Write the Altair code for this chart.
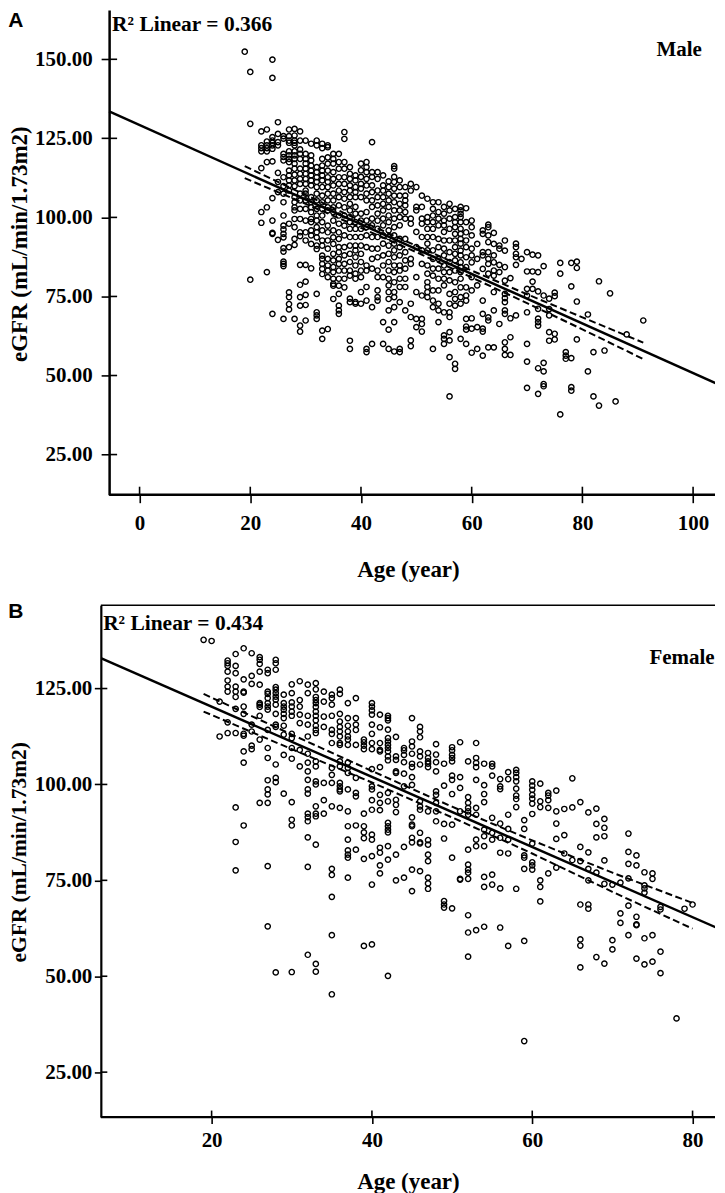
import altair as alt
import pandas as pd

male = {
19:[152.4],
20:[146.0,129.6,80.3],
22:[127.2,122.8,121.9,120.9,115.6,101.7,98.3],
23:[127.8,124,122.8,121.9,120.9,117.5,103.2,82.7],
24:[149.9,144.1,125.4,124.3,123.6,122.8,121.7,117.7,106.1,99,95.1,94.8,69.5],
25:[130.1,126.4,123.8,122.8,114.1,111.2,108,92.9],
26:[125.7,124.9,120.1,119.1,118,112.7,109.9,107.5,104.8,100.6,97.4,96.2,94.8,93.7,90.3,89.2,86,85.3,84.6,67.9],
27:[127.8,125.7,124.3,123.6,120.9,119.6,118.5,117.5,114.8,113.3,111.7,110.1,108.5,98,90.6,76.3,74.8,72.6,70.9],
28:[128,125.9,124.3,123.6,122.8,120.9,119.6,118.5,117,115.4,113.5,111.7,109.9,106.4,104.8,103.2,102.2,99.5,96.9,93.2,91.3,67.9],
29:[127.2,124.3,121.5,120.1,118.5,115.4,113.8,112.2,110.6,107.5,105.4,102.7,99.5,95.3,94.1,85,78.7,74.8,72.1,65.8,63.9],
30:[124.3,120.1,118.5,117,115.4,113.8,112.2,110.6,108.5,107.5,105.4,102.7,99,95.3,92.7,85,79.7,75.5,72.3,67.4],
31:[123.3,119.6,118,116.4,114.8,113.3,111.7,110.1,106.4,104.8,103.2,101.7,99.5,98.5,95.9,94.3,91.6,83.9],
32:[124.3,122.8,115.9,114.3,112.7,111.2,109.6,107.5,105.4,102.7,100.6,99,96.9,95.3,93.7,91.1,90,75.8,70,69,67.9],
33:[123.3,121.9,118.5,116.4,114.8,113.3,111.7,109.6,106.9,104.8,102.7,100.6,98.5,95.9,92.7,91.1,87.9,86.9,85.3,83.7,82.1,64.2,61.6],
34:[122.8,122.2,119,117,114.8,112.7,111.2,109.6,107.5,105.4,103.2,102.2,97.4,95.3,92.7,90.1,86.9,84.8,83.2,81.1,64.7],
35:[120.1,118.5,117,114.3,112.2,110.1,107.5,105.4,103.2,101.7,99,95.9,93.7,91.6,88.5,86.4,84.3,82.7,80.6,79,78.4,74.2],
36:[120.1,117.5,115.4,112.7,110.6,108.5,106.4,103.8,100.6,98,95.3,93.2,90.6,89,86.9,85.3,83.2,80.6,78.4,75.8,72.1,70.6,69.5],
37:[127,124.8,117.5,115.4,112.7,110.6,108,105.9,103.2,100.6,97.4,94.3,90.6,88,85.3,83.2,80.6,77.9],
38:[115.9,113.8,112.2,110.1,108.5,106.4,104.3,102.2,100.1,98.5,96.4,93.8,91.1,88.5,85.9,83.2,81.6,74.3,73.2,61,58.4],
39:[113.3,111.7,109.6,108,106.4,103.3,101.2,98.5,96.4,93.8,91.1,89.6,87.4,84.8,82.2,80.6,73.2,72.7],
40:[117,114.9,112.8,110.6,109.1,106.4,101.2,99,96.4,93.8,91.1,88.5,85.9,83.2,81.1,76.4,72.7],
41:[117.5,115.9,114.3,112.2,110.1,107.5,105.4,101.7,99,96.9,94.3,90.6,84.8,83.2,78,73.7,58.4,57.4],
42:[123.8,114.3,112.8,110.1,108,105.4,103.3,99.6,97.5,93.8,90.1,86.9,83.8,71.6,60],
43:[114.3,112.2,108.5,106.4,103.8,101.2,99,96.4,93.8,90.1,87.4,83.2,81.1,76.9,74.8,73.7],
44:[113.3,110.1,108.5,106.4,104.3,102.2,99.6,97.5,94.3,91.7,88,84.8,81.1,66.9,60],
45:[111.4,109.6,107.5,105.4,103.3,100.6,98.5,95.9,93.8,91.1,88.5,85.9,83.2,80.6,78.5,76.4,74.2,70.6,64.5,58.4],
46:[116.2,115.4,112.8,111.2,109.1,106.9,104.8,102.2,99.6,96.9,94.3,91.7,89.6,87.4,84.8,82.7,79.5,76.4,74.8,71.6,66.9,57.6],
47:[111.7,109.6,106.9,104.3,102.2,100.1,97.5,93.2,90.6,88,84.8,83.2,80.6,78,73.2,58.4,57.4],
48:[109.6,106.9,105.4,103.8,101.7,99.6,93.2,89,86.4,83.8,80.6,78,70.6],
49:[110.6,108.5,99.6,98,86.9,85.3,72.7,68.5,61.1,59.3],
50:[109.6,103.3,102.2,95.4,90.6,81.1,76.4,67.9,65.3],
51:[106.9,103.3,99.6,98,93.8,89.6,85.3,75.3,67.9,66.3,63.9],
52:[105.9,100.1,98.5,96.4,93.8,91.7,89.6,84.8,82.2,79.5,78,76.4,74.8],
53:[104.8,102.7,100.6,98.5,96.4,93.8,89.6,86.9,83.8,81.6,76.9,73.7,71.6,58.4],
54:[104.8,101.7,99.6,97.5,93.2,90.6,86.9,83.8,80.6,76.9,72.7,70.6,66.9],
55:[103.3,101.2,99,97.5,95.4,92.7,90.1,88,84.8,82.7,80.6,78.5,70,62.7,61.6,60],
56:[104.3,102.2,99.6,96.4,92.7,89,85.9,82.7,80.1,75.8,72.7,70,68.5,63.7,61.1,55.8,43.4],
57:[102.7,100.1,98.5,96.9,94.8,92.7,90.6,88.5,86.4,83.2,79.5,76.4,74.2,72.1,53.7,52.1],
58:[103.3,102.2,101.1,100.1,98.5,96.4,94.8,93.2,91.7,89.5,88,85.8,84.3,82.7,80.6,77.9,74.8,72.7,61.6],
59:[102.9,98.5,95.3,92.7,90.6,87.4,84.3,77.9,75.3,73.7,67.9,65.5,64.5,60],
60:[99,96.9,94.3,90.1,88,85.8,81.1,76.9,68.1,64.8,57.2],
61:[91.6,86.9,78.5,65.3,58.4],
62:[95.9,94.8,89,88,83.7,73.7,69.5,64.8,63.9,56.3],
63:[97.7,96.9,94.3,92.2,89,86.9,85.3,82.2,68.4,67.4,58.9],
64:[95.1,91.6,88,85.8,83.2,81.6,76.4,70.6,58.9],
65:[91.1,90.1,85,82.7,66.3],
66:[92.7,89.5,84.3,80,75.8,74.5,73.2,70.6,69.5,60.5,58.4,56.5],
67:[80.8,68.1,62.1,56.5],
68:[91.7,90.6,88.5,87.4,85,69],
69:[86.9],
70:[89,82.9,77.4,75.3,70,60,54.4,46.1],
71:[88.2,82.9,79.7,77.4],
72:[88,82.7,76.6,71.1,68,66.9,65.8,52.3,44.2],
73:[84.6,75.3,54,51.3,47.3,46.6],
74:[74.3,71,69,63.7,61],
75:[76.2,75.1,63.2,61.4],
76:[85.6,82.2,37.7],
77:[57.4,56.3,55.3],
78:[85.6,78.2,55.5,46.3,45.2],
79:[86,84,73.4,61.4],
81:[69.3,51.3],
82:[57.4,43.4],
83:[79.8,40.5],
84:[57.9],
85:[76],
86:[41.8],
88:[63],
91:[67.4],
}

female = {
19:[137.7],
20:[137.4],
21:[121.6,112.5],
22:[132.3,131.6,130.9,129.4,127.1,125.5,124.2,116.2,113.4],
23:[134,130.9,129,125.5,124.2,122.8,119.7,113.4,94,85,77.6],
24:[135.5,127.4,124.2,123.9,120.3,118.4,113.2,112.7,108.6,105.7,89.3],
25:[134.2,128.3,126.2,115.6,113.8,110.1,109.2],
26:[133.2,132.5,131.4,129.4,126,121.2,120.8,120.2,117.9,111.7,95.2],
27:[129.9,129,124.2,123.6,122.5,121.2,120.3,119.5,114.2,109.5,106.9,101.1,98.7,97.4,95.2,78.7,63],
28:[132.5,131.6,129.9,125.4,124.7,123.8,122.9,122.1,120.8,118.4,115.6,115,105.2,101.7,100.6,51],
29:[123.4,121.2,120.3,119.5,118.4,117.3,115.3,113,107.7,97.6],
30:[126.1,123.8,121.4,120.3,119,117.9,113.2,112.1,109.5,106.7,95.4,90.8,89.3,51.1],
31:[126.9,122,120.3,118.2,116,109,104.7],
32:[126,123.8,117.9,115.6,112.5,108,105.7,103.4,101.2,98.7,97.6,92.4,91.5,90.4,86.2,78.5,55.6],
33:[126.4,124.8,122.8,122,121.2,120.2,119,117.9,116.7,115.3,114.2,113.4,106,104.7,100.8,100,94.3,92.4,91.7,84.3,53.2,51.2],
34:[124.2,121.6,117.7,115,100.4,95.9,92.4],
35:[123.4,122.5,120.8,117.9,114.2,113.2,110.8,104.3,102.5,100.4,94.3,78,76.4,70.7,60.7,45.3],
36:[124.7,123.6,118.4,116.4,115,113.8,112.5,110.8,110.3,106,104.7,100.4,99.5,98.7,98.2,93.9],
37:[121.2,117.3,115.3,113.8,112.5,111.7,110.3,105.7,104.3,103,98.7,93,89.1,85.6,82.8,81.7,80.9,75.7],
38:[122.5,117.3,115.6,114.2,110.3,101.7,97.8,96.9,89.3,83],
39:[111.7,111,110.1,109.2,92.4,89.1,87.5,86,80.6,57.9],
40:[121.2,120.3,119.3,118.2,115.6,113.2,110.8,109.2,104,99.5,98.7,95.9,93.4,86.9,85.6,81.3,73.9,58.3],
41:[118.2,114.9,110.8,109,108.6,104.5,97.3,95.2,93.3,83.5,82.2,78.9,76.8],
42:[117.9,117.3,116.7,114.3,112.1,111.2,110.3,109.5,108.6,107.3,106.3,97.8,95.6,90,89.1,88.2,87.5,83.9,80.4,50.1],
43:[112.4,107.3,106.4,103.4,103,96,94.7,92.8,81.7,75],
44:[109.5,108.9,107.7,105.8,102.8,99.5,83.7,75.7],
45:[117.3,111.2,109.9,108,105.4,104.5,101.9,99.9,91.4,89.5,89.1,86.1,84.9,77.8,72.2],
46:[115,113.8,112.3,108.6,107.3,105.2,95.6,94.3,93.4,87.4,84.9,84.6,77.4],
47:[108.2,106.9,106,105.4,104.5,93,85.5,84.3,81.7,80,75.7,74.2,72.8],
48:[110.5,107.8,105.8,103.4,98.2,97.3,95.2,93,90.4],
49:[105.4,99.7,89.7,85.9,69.6,68.7,67.9],
50:[109.7,108.9,107.7,106.9,106,102.3,101.2,97.5,89.5,80.9,67.7],
51:[111,101.9,99.1,93,75.4,75.2],
52:[106,96.7,95.2,93.9,93,92.1,83,79.1,77.8,77,75.4,65.9,61.4,55.1],
53:[110.8,106.9,105.6,104.5,101.2,93.9,92.1,85.6,83.9,62],
54:[105.4,99.8,97.5,95.4,88.2,86.5,83.9,75.9,73.3,62.9],
55:[105.4,104.7,102.3,91.3,87.4,85.6,76.5,73.9],
56:[101.4,99.5,98.8,89.8,86.1,82.2,72.9,62.7],
57:[103.2,101.4,92.1,88.4,85.6,82,57.9],
58:[103.8,103,101.9,100.8,98.9,97.1,96.2,94.1,72.8],
59:[90.7,88.4,81.5,80.9,78,59.2,33.1],
60:[100.8,99.7,98.6,97.3,96.3,95,92.3,84.6,79.7,78.9,77.8],
61:[100.2,95.6,94.1,75,73.3,69.5],
62:[97.8,97.1,95.9,93.9,76.8],
63:[98.4,93,89.8,85.8,78.3],
64:[93.6,86.8,82],
65:[101.6,94,80.3],
66:[95.4,83.7,80,68.7,59.6,58,52.3],
67:[92.7,82.3,78,75,68.7,67.6],
68:[93.7,89.7,86.2,77,55],
69:[91,88.7,86.5,80.2,74.1,53.3],
70:[73.9,59.4,57],
71:[74.4,66.4,63.9],
72:[87.2,82.4,79.3,75.5,68.4,60.7],
73:[81.5,78.9,65.5,63.5,63.3,54.6],
74:[77.1,73.7,72.9,71.8,59.9,53.1],
75:[76.8,75.4,60.7,53.8],
76:[68.1,67.4,56.4,50.8],
78:[39],
79:[67.6],
80:[68.7],
}

male_fit_age = [-5.5, 105.6]
male_fit = [133.5, 46.4]
male_ci_age = [19, 30, 40, 50, 60, 70, 80, 91]
male_upper = [116.2, 107.1, 98.9, 91, 83.2, 75.7, 68.4, 60.4]
male_lower = [112.4, 104.3, 96.7, 89, 81, 72.9, 64.6, 55.2]

female_fit_age = [6.18, 83.93]
female_fit = [132.9, 61.8]
female_ci_age = [19, 30, 40, 50, 60, 70, 80]
female_upper = [123.6, 113, 103.5, 94.2, 85.4, 77, 69.1]
female_lower = [119, 109.2, 100.5, 91.4, 82, 72, 62.4]

male_y_ticks = [25, 50, 75, 100, 125, 150]
female_y_ticks = [25, 50, 75, 100, 125]
male_x_ticks = [0, 20, 40, 60, 80, 100]
female_x_ticks = [20, 40, 60, 80]

SERIF = "Liberation Serif"


def panel(points, fit_age, fit, ci_age, upper, lower, xdom, ydom, w, h, xticks, yticks,
          tick, ypad, xpad, dw, letter, letter_y, r2, r2_x, r2_y,
          sex, sex_x, sex_y, ysize, title_x, title_y, topline, xtitle_off, left):
    df = pd.DataFrame([{"age": a, "egfr": v} for a, vals in points.items() for v in vals])
    x_scale = alt.Scale(domain=xdom, nice=False, zero=False)
    y_scale = alt.Scale(domain=ydom, nice=False, zero=False)
    xax = alt.Axis(values=xticks, format="d", tickSize=tick, tickWidth=1.6, tickColor="black",
                   ticks=True, domain=False, grid=False, labelFont=SERIF,
                   labelFontWeight="bold", labelFontSize=21, labelColor="black", labelPadding=xpad,
                   title="Age (year)", titleFont=SERIF, titleFontWeight="bold", titleFontSize=23,
                   titleColor="black", titlePadding=xtitle_off, labelFlush=False)
    yax = alt.Axis(values=yticks, format=".2f", tickSize=tick, tickWidth=1.6, tickColor="black",
                   ticks=True, domainColor="black", domainWidth=dw, grid=False, labelFont=SERIF,
                   offset=-left, labelFontWeight="bold", labelFontSize=21, labelColor="black",
                   labelPadding=ypad, title="eGFR (mL/min/1.73m2)", titleFont=SERIF,
                   titleFontWeight="bold", titleFontSize=ysize, titleColor="black", titleX=title_x,
                   titleY=title_y, titleBaseline="middle", titleAlign="center", labelFlush=False)
    X = alt.X("age:Q", scale=x_scale, axis=xax)
    Y = alt.Y("v:Q", scale=y_scale, axis=yax)
    base = alt.Chart(df).mark_point(shape="circle", filled=False, size=28, strokeWidth=1.4,
                                    color="black", opacity=1, clip=True).encode(
        x=X, y=alt.Y("egfr:Q", scale=y_scale, axis=yax))
    fit_line = alt.Chart(pd.DataFrame({"age": fit_age, "v": fit})).mark_line(
        color="black", strokeWidth=2.5, clip=True).encode(x=X, y=Y)
    ci = pd.DataFrame({"age": ci_age * 2, "v": upper + lower,
                       "s": ["upper"] * len(ci_age) + ["lower"] * len(ci_age)})
    ci_line = alt.Chart(ci).mark_line(color="black", strokeWidth=2, strokeDash=[7, 3.5],
                                      clip=True).encode(x=X, y=Y, detail="s:N")
    ytick_in = alt.Chart(pd.DataFrame({"v": yticks})).mark_rule(
        color="black", strokeWidth=1.6).encode(y=Y, x=alt.value(left), x2=alt.value(left + tick))
    xtick_in = alt.Chart(pd.DataFrame({"age": xticks})).mark_rule(
        color="black", strokeWidth=1.6).encode(x=X, y=alt.value(h), y2=alt.value(h - tick))
    one = alt.Data(values=[{"a": 1}])
    def label(txt, x, y, size, font, align):
        return alt.Chart(one).mark_text(text=txt, font=font, fontWeight="bold", fontSize=size,
                                        align=align, baseline="middle", color="black").encode(
            x=alt.value(x), y=alt.value(y))
    bottom = alt.Chart(one).mark_rule(color="black", strokeWidth=dw).encode(
        x=alt.value(left), x2=alt.value(w), y=alt.value(h))
    layers = [base, fit_line, ci_line, ytick_in, xtick_in, bottom,
              label(r2, r2_x, r2_y, 21.5, SERIF, "left"),
              label(sex, sex_x, sex_y, 21, SERIF, "center"),
              label(letter, -92.7, letter_y, 21, "Liberation Sans", "left")]
    if topline:
        layers.append(alt.Chart(one).mark_rule(color="black", strokeWidth=1.5).encode(
            x=alt.value(left), x2=alt.value(w), y=alt.value(0)))
    return alt.layer(*layers).properties(width=w, height=h)


a = panel(male, male_fit_age, male_fit, male_ci_age, male_upper, male_lower,
          [-7.0, 103.96], [12.31, 165.56], 615.3, 485.5, male_x_ticks, male_y_ticks,
          8, 9, 20.7, 2.5, "A", 10.5, "R² Linear = 0.366", 11.3, 15,
          "Male", 579.3, 40, 23, -90, 234, False, 25.3, 8.3)
b = panel(female, female_fit_age, female_fit, female_ci_age, female_upper, female_lower,
          [6.18, 82.8], [13.29, 146.7], 615.3, 512.7, female_x_ticks, female_y_ticks,
          6.5, 2.5, 16.7, 2.2, "B", 6.7, "R² Linear = 0.434", 2.3, 19,
          "Female", 582.3, 52.7, 21.5, -81.7, 247, True, 20, 0)

chart = alt.concat(a, b, columns=1, spacing=18.3, bounds="full").properties(
    padding=0).configure_view(stroke=None).configure_axis(labelBaseline="middle")

chart.save("out.html", embed_options={"renderer": "svg", "actions": False})
